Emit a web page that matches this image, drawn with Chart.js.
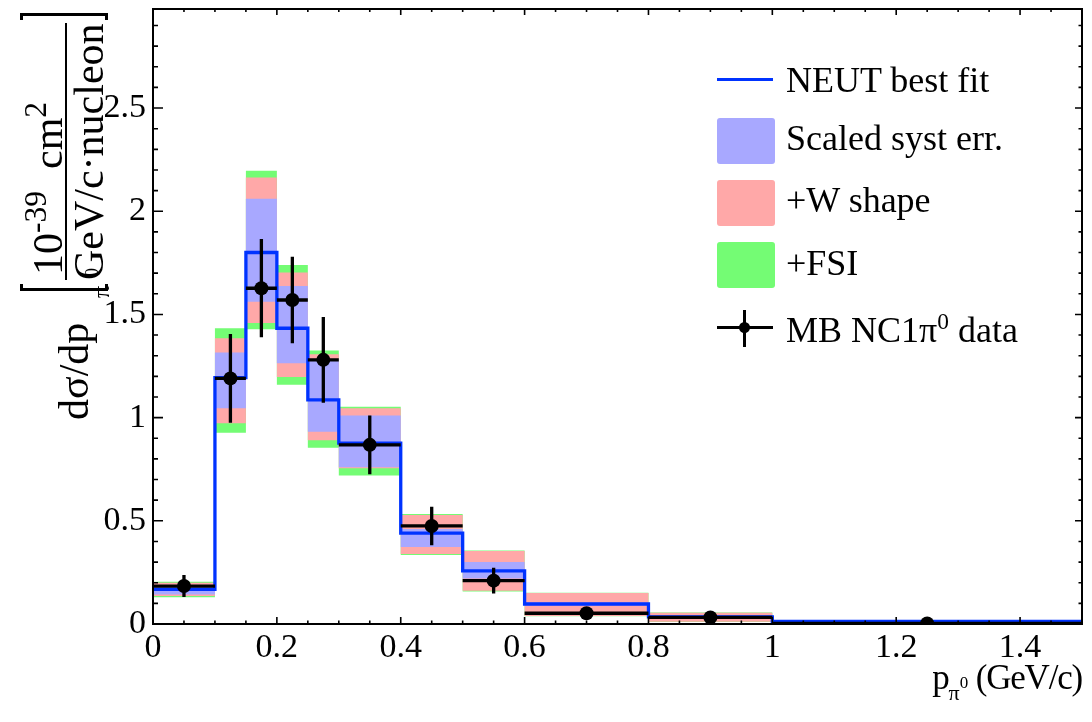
<!DOCTYPE html>
<html>
<head>
<meta charset="utf-8">
<script src="https://cdn.jsdelivr.net/npm/chart.js@4"></script>
<style>
  body { margin: 0; background: #fff; font-family: "Liberation Serif", serif; color: #000; }
  #wrap { position: relative; width: 1092px; height: 722px; overflow: hidden; }
  #chart { display: block; }
  .abs { position: absolute; white-space: nowrap; line-height: 1; }
  #ytitle { position: absolute; left: -145px; top: 165px; width: 420px; height: 100px; transform: rotate(-90deg); }
  #ytitle .t { position: absolute; white-space: nowrap; line-height: 1; font-size: 42px; }
  #ytitle .brk { position: absolute; top: 5px; width: 7px; height: 88px; border: 3px solid #000; box-sizing: border-box; }
  #ytitle .bar { position: absolute; left: 145px; top: 50px; width: 257px; height: 2px; background: #000; }
  .sup { position: relative; top: -0.55em; font-size: 0.65em; }
  .nsup { position: relative; top: -0.5em; font-size: 0.75em; }
  #xtitle { right: 10px; top: 660px; font-size: 35px; letter-spacing: -1.2px; }
  .xs { position: relative; top: 11px; font-size: 22px; letter-spacing: 0; }
  .xss { position: relative; top: -12px; font-size: 17px; }
  .legtxt { left: 786px; font-size: 36px; }
  .box { position: absolute; left: 717px; width: 58px; height: 46px; border-radius: 3px; }
</style>
</head>
<body>
<div id="wrap">
  <canvas id="chart" width="1092" height="722"></canvas>

  <div id="ytitle">
    <span class="t" style="left:5px; top:38px;">dσ/dp</span>
    <span class="t" style="left:127px; top:74px; font-size:24px;">π</span>
    <span class="t" style="left:148px; top:68px; font-size:18px;">0</span>
    <div class="brk" style="left:134px; border-right:none;"></div>
    <div class="brk" style="left:405px; border-left:none;"></div>
    <div class="bar"></div>
    <span class="t" style="left:150px; top:12px;">10<span class="nsup">-39</span><span style="margin-left:22px;">cm</span><span class="nsup">2</span></span>
    <span class="t" style="left:145px; top:53px;">GeV/c·nucleon</span>
  </div>

  <div id="xtitle" class="abs">p<span class="xs">π<span class="xss">0</span></span> (GeV/c)</div>

  <div class="abs" style="left:717px; top:78px; width:56px; height:3px; background:#0033ff;"></div>
  <div class="abs legtxt" style="top:62px;">NEUT best fit</div>
  <div class="box" style="top:118px; background:#a8a8ff;"></div>
  <div class="abs legtxt" style="top:120px;">Scaled syst err.</div>
  <div class="box" style="top:180px; background:#ffa8a8;"></div>
  <div class="abs legtxt" style="top:182px;">+W shape</div>
  <div class="box" style="top:242px; background:#74fc74;"></div>
  <div class="abs legtxt" style="top:245px;">+FSI</div>
  <div class="abs" style="left:717px; top:326px; width:56px; height:3px; background:#000;"></div>
  <div class="abs" style="left:743px; top:310px; width:3px; height:37px; background:#000;"></div>
  <div class="abs" style="left:739px; top:322px; width:11px; height:11px; border-radius:50%; background:#000;"></div>
  <div class="abs legtxt" style="top:312px;">MB NC1π<span class="sup">0</span> data</div>
</div>

<script>
// bin edges in p_pi0 (GeV/c)
const binEdges = [0, 0.1, 0.15, 0.2, 0.25, 0.3, 0.4, 0.5, 0.6, 0.8, 1.0, 1.5];

// NEUT best fit, one value per bin
const neutFit = [0.168, 1.194, 1.800, 1.433, 1.086, 0.876, 0.440, 0.257, 0.097, 0.035, 0.012];

// error bands (low/high edge per bin)
const systLow  = [0.143, 1.046, 1.562, 1.264, 0.931, 0.760, 0.373, 0.220, 0.090, 0.029, 0.008];
const systHigh = [0.189, 1.315, 2.060, 1.638, 1.280, 1.010, 0.460, 0.300, 0.104, 0.041, 0.015];
const wLow     = [0.136, 0.973, 1.458, 1.197, 0.890, 0.755, 0.339, 0.161, 0.039, 0.011, 0.003];
const wHigh    = [0.200, 1.385, 2.163, 1.703, 1.307, 1.045, 0.528, 0.354, 0.150, 0.055, 0.016];
const fsiLow   = [0.130, 0.927, 1.428, 1.159, 0.854, 0.719, 0.334, 0.158, 0.037, 0.010, 0.003];
const fsiHigh  = [0.205, 1.433, 2.196, 1.740, 1.325, 1.053, 0.533, 0.356, 0.152, 0.056, 0.017];

// MiniBooNE NC1pi0 data
const dataX   = [0.05, 0.125, 0.175, 0.225, 0.275, 0.35, 0.45, 0.55, 0.7, 0.9, 1.25];
const dataY   = [0.184, 1.190, 1.627, 1.570, 1.280, 0.868, 0.475, 0.210, 0.052, 0.032, 0.003];
const dataErr = [0.053, 0.215, 0.238, 0.210, 0.208, 0.142, 0.093, 0.062, 0.015, 0.010, 0.003];

const xTickValues = [0, 0.2, 0.4, 0.6, 0.8, 1, 1.2, 1.4];
const yTickValues = [0, 0.5, 1, 1.5, 2, 2.5];

const BLUE = "#0033ff";

function steps(vals) {
  const pts = [];
  vals.forEach((v, i) => {
    pts.push({ x: binEdges[i], y: v }, { x: binEdges[i + 1], y: v });
  });
  return pts;
}

const vBars = [];
const hBars = [];
dataX.forEach((x, i) => {
  vBars.push({ x: x, y: dataY[i] - dataErr[i] }, { x: x, y: dataY[i] + dataErr[i] }, { x: x, y: null });
  hBars.push({ x: binEdges[i], y: dataY[i] }, { x: binEdges[i + 1], y: dataY[i] }, { x: binEdges[i + 1], y: null });
});

function band(pts, order) {
  return { data: pts, borderWidth: 0, borderColor: "rgba(0,0,0,0)", pointRadius: 0, fill: false, order: order };
}

const datasets = [
  band(steps(fsiHigh), 10),
  Object.assign(band(steps(fsiLow), 10), { fill: 0, backgroundColor: "#74fc74" }),
  band(steps(wHigh), 9),
  Object.assign(band(steps(wLow), 9), { fill: 2, backgroundColor: "#ffa8a8" }),
  band(steps(systHigh), 8),
  Object.assign(band(steps(systLow), 8), { fill: 4, backgroundColor: "#a8a8ff" }),
  { data: steps(neutFit), borderColor: BLUE, borderWidth: 3.3, pointRadius: 0, fill: false, order: 3 },
  { data: hBars, borderColor: "#000", borderWidth: 3.3, pointRadius: 0, fill: false, spanGaps: false, order: 2 },
  { data: vBars, borderColor: "#000", borderWidth: 3.3, pointRadius: 0, fill: false, spanGaps: false, order: 2 },
  { data: dataX.map((x, i) => ({ x: x, y: dataY[i] })), showLine: false, pointRadius: 7,
    pointBackgroundColor: "#000", pointBorderWidth: 0, order: 1 }
];

// ROOT style frame with ticks drawn inward on all four sides
const frameTicks = {
  id: "frameTicks",
  afterDatasetsDraw(chart) {
    const { ctx, chartArea: a, scales: { x, y } } = chart;
    ctx.save();
    ctx.strokeStyle = "#000";
    ctx.lineWidth = 1.6;
    ctx.beginPath();
    for (let i = 1; i < 30; i++) {
      const px = x.getPixelForValue(i * 0.05);
      const major = i % 4 === 0;
      ctx.moveTo(px, a.bottom); ctx.lineTo(px, a.bottom - (major ? 7 : 3.5));
      ctx.moveTo(px, a.top); ctx.lineTo(px, a.top + (major ? 6 : 3));
    }
    for (let i = 1; i < 30; i++) {
      const py = y.getPixelForValue(i * 0.1);
      if (py < a.top) break;
      const major = i % 5 === 0;
      ctx.moveTo(a.left, py); ctx.lineTo(a.left + (major ? 10 : 5), py);
      ctx.moveTo(a.right, py); ctx.lineTo(a.right - (major ? 7 : 3.5), py);
    }
    ctx.stroke();
    ctx.lineWidth = 2;
    ctx.strokeRect(a.left, a.top, a.right - a.left, a.bottom - a.top);
    ctx.restore();
  }
};

Chart.defaults.font.family = "'Liberation Serif', serif";
Chart.defaults.color = "#000";

new Chart(document.getElementById("chart"), {
  type: "line",
  data: { datasets: datasets },
  plugins: [frameTicks],
  options: {
    responsive: false,
    devicePixelRatio: 1,
    animation: false,
    events: [],
    layout: { padding: { top: 9, right: 10, left: 0, bottom: 0 } },
    plugins: { legend: { display: false }, tooltip: { enabled: false } },
    scales: {
      x: {
        type: "linear", min: 0, max: 1.5,
        grid: { display: false, drawTicks: false },
        border: { display: false },
        ticks: { font: { size: 34 }, padding: 4, maxRotation: 0, autoSkip: false, callback: v => String(v) },
        afterBuildTicks: s => { s.ticks = xTickValues.map(v => ({ value: v })); },
        afterFit: s => { s.height = 98; s.paddingLeft = 0; s.paddingRight = 0; }
      },
      y: {
        type: "linear", min: 0, max: 2.98,
        grid: { display: false, drawTicks: false },
        border: { display: false },
        ticks: { font: { size: 34 }, padding: 7, callback: v => String(v) },
        afterBuildTicks: s => { s.ticks = yTickValues.map(v => ({ value: v })); },
        afterFit: s => { s.width = 153; s.paddingTop = 0; s.paddingBottom = 0; }
      }
    }
  }
});
</script>
</body>
</html>
